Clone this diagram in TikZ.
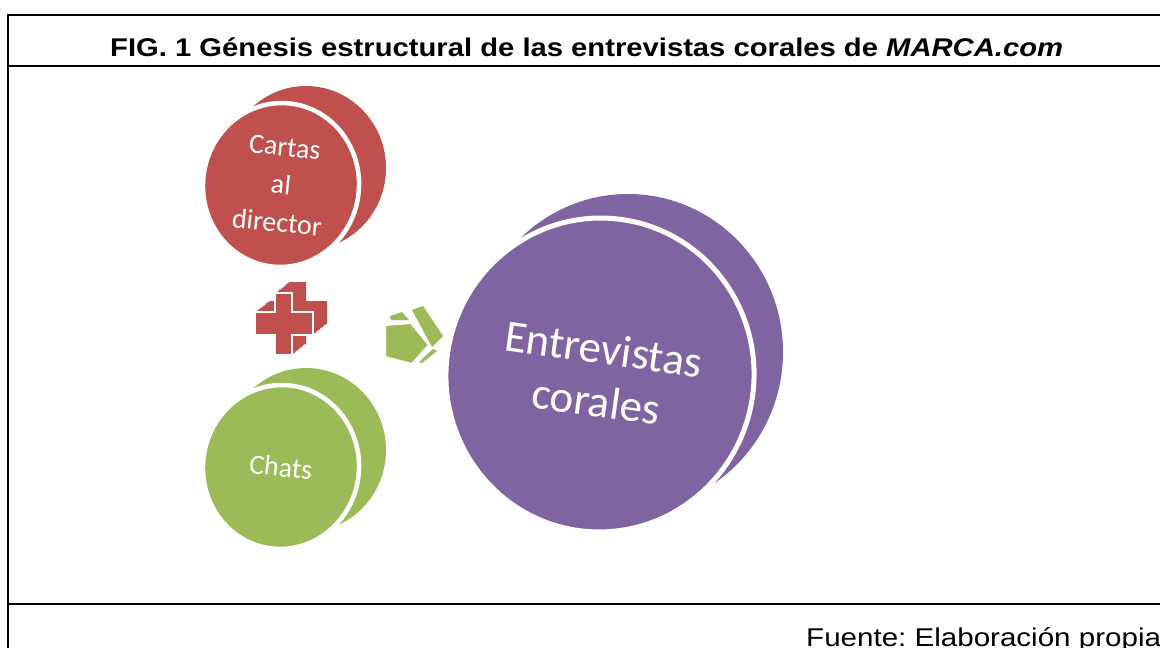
\documentclass[tikz,border=0pt]{standalone}
\usepackage{fontspec}
\setmainfont{Liberation Sans}
\newfontfamily\calib{Carlito}
\usetikzlibrary{shapes.geometric}
\definecolor{redA}{HTML}{C0504D}
\definecolor{greenA}{HTML}{9BBB59}
\definecolor{purpleA}{HTML}{8064A2}
\frenchspacing
\begin{document}
\begin{tikzpicture}[x=1pt,y=-1pt,
  frameline/.style={line width=2pt, black},
  disk/.style={ellipse, inner sep=0pt, outer sep=0pt},
  backdisk/.style={disk, draw=none},
  frontdisk/.style={disk, draw=white, line width=4.5pt, text=white, align=center},
  smalltext/.style={font=\calib\fontsize{28}{38}\selectfont},
  bigtext/.style={font=\calib\fontsize{45}{53}\selectfont},
  solidshape/.style={draw=white, line width=2pt, line join=miter}
]
\clip (0,0) rectangle (1160,648);
\fill[white] (0,0) rectangle (1160,648);
% frame
\draw[frameline] (7.5,680) -- (7.5,15) -- (1180,15);
\draw[frameline] (7.5,66) -- (1180,66);
\draw[frameline] (7.5,603.5) -- (1180,603.5);
% title and source
\node[anchor=base west, inner sep=0pt, font=\bfseries\fontsize{25.6}{30}\selectfont] (title) at (110,56.7)
  {\scalebox{1.141}[1]{FIG. 1 Génesis estructural de las entrevistas corales de \textit{MARCA.com}}};
\node[anchor=base west, inner sep=0pt, font=\fontsize{25.7}{30}\selectfont] (fuente) at (806,646.7)
  {\scalebox{1.15}[1]{Fuente: Elaboración propia}};
% red disk
\node[backdisk, fill=redA, minimum width=160, minimum height=164] (cartasB) at (306,168) {};
\node[frontdisk, smalltext, fill=redA, minimum width=156, minimum height=164, rotate=-6] (cartas) at (281,185) {Cartas\\al\\director};
% green disk
\node[backdisk, fill=greenA, minimum width=160, minimum height=164] (chatsB) at (306,450) {};
\node[frontdisk, smalltext, fill=greenA, minimum width=156, minimum height=164, rotate=-6] (chats) at (281,467) {Chats};
% purple disk
\node[backdisk, fill=purpleA, minimum width=310, minimum height=316] (entB) at (628,352) {};
\node[frontdisk, bigtext, fill=purpleA, line width=5pt, minimum width=308, minimum height=314, rotate=-8] (ent) at (600,375) {Entrevistas\\corales};
% plus sign (extruded)
\foreach \t in {0.1,0.2,...,1.0}{
  \fill[redA, shift={(14*\t,-11*\t)}] (275,293) -- (292,293) -- (292,312) -- (313,312) -- (313,335) -- (292,335) -- (292,355) -- (275,355) -- (275,335) -- (255,335) -- (255,312) -- (275,312) -- cycle;
}
\filldraw[solidshape, fill=redA] (275,293) -- (292,293) -- (292,312) -- (313,312) -- (313,335) -- (292,335) -- (292,355) -- (275,355) -- (275,335) -- (255,335) -- (255,312) -- (275,312) -- cycle;
% arrow
\fill[greenA] (412,310) -- (423,306) -- (443,336) -- (432,347) -- cycle;
\fill[greenA] (433,349) -- (437,351) -- (422,363) -- (419,362) -- cycle;
\fill[greenA] (390,316) -- (402,312) -- (409,320) -- (391,320) -- cycle;
\filldraw[solidshape, fill=greenA] (385,325) -- (411,323) -- (429,345) -- (412,364) -- (385,357) -- cycle;
\end{tikzpicture}
\end{document}
